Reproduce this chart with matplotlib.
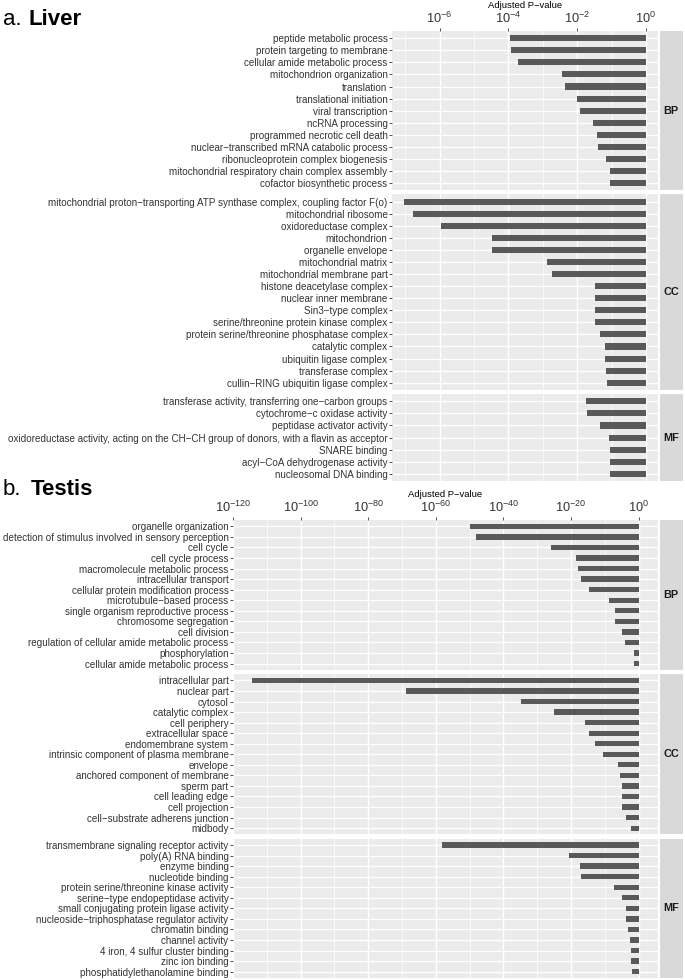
import numpy as np
import matplotlib
matplotlib.use("Agg")
import matplotlib.pyplot as plt
from matplotlib.ticker import FixedLocator, NullFormatter

plt.rcParams['font.family'] = ['Liberation Sans', 'DejaVu Sans']
plt.rcParams['mathtext.fontset'] = 'custom'
plt.rcParams['mathtext.rm'] = 'Liberation Sans'
plt.rcParams['mathtext.it'] = 'Liberation Sans:italic'
plt.rcParams['mathtext.bf'] = 'Liberation Sans:bold'

# ---- Liver ----
liver_bp_terms = ["peptide metabolic process", "protein targeting to membrane",
                  "cellular amide metabolic process", "mitochondrion organization",
                  "translation", "translational initiation", "viral transcription",
                  "ncRNA processing", "programmed necrotic cell death",
                  "nuclear\u2212transcribed mRNA catabolic process",
                  "ribonucleoprotein complex biogenesis",
                  "mitochondrial respiratory chain complex assembly",
                  "cofactor biosynthetic process"]
liver_bp_p = [1.1e-4, 1.2e-4, 1.9e-4, 3.7e-3, 4.5e-3, 1.0e-2, 1.2e-2,
              2.8e-2, 3.7e-2, 4.1e-2, 6.9e-2, 9.3e-2, 9.3e-2]

liver_cc_terms = ["mitochondrial proton\u2212transporting ATP synthase complex, coupling factor F(o)",
                  "mitochondrial ribosome", "oxidoreductase complex", "mitochondrion",
                  "organelle envelope", "mitochondrial matrix", "mitochondrial membrane part",
                  "histone deacetylase complex", "nuclear inner membrane", "Sin3\u2212type complex",
                  "serine/threonine protein kinase complex",
                  "protein serine/threonine phosphatase complex", "catalytic complex",
                  "ubiquitin ligase complex", "transferase complex",
                  "cullin\u2212RING ubiquitin ligase complex"]
liver_cc_p = [9.3e-8, 1.7e-7, 1.1e-6, 3.3e-5, 3.3e-5, 1.3e-3, 1.9e-3, 3.2e-2,
              3.2e-2, 3.2e-2, 3.4e-2, 4.7e-2, 6.5e-2, 6.5e-2, 6.9e-2, 7.2e-2]

liver_mf_terms = ["transferase activity, transferring one\u2212carbon groups",
                  "cytochrome\u2212c oxidase activity", "peptidase activator activity",
                  "oxidoreductase activity, acting on the CH\u2212CH group of donors, with a flavin as acceptor",
                  "SNARE binding", "acyl\u2212CoA dehydrogenase activity",
                  "nucleosomal DNA binding"]
liver_mf_p = [1.8e-2, 1.9e-2, 4.6e-2, 8.5e-2, 8.9e-2, 9.1e-2, 9.3e-2]

# ---- Testis ----
testis_bp_terms = ["organelle organization",
                   "detection of stimulus involved in sensory perception", "cell cycle",
                   "cell cycle process", "macromolecule metabolic process",
                   "intracellular transport", "cellular protein modification process",
                   "microtubule\u2212based process", "single organism reproductive process",
                   "chromosome segregation", "cell division",
                   "regulation of cellular amide metabolic process", "phosphorylation",
                   "cellular amide metabolic process"]
testis_bp_p = [1.3e-50, 1.0e-48, 1.3e-26, 3.2e-19, 1.3e-18, 6.3e-18, 2.5e-15,
               1.4e-9, 8.3e-8, 1.3e-7, 9.8e-6, 7.4e-5, 3.4e-2, 4.2e-2]

testis_cc_terms = ["intracellular part", "nuclear part", "cytosol", "catalytic complex",
                   "cell periphery", "extracellular space", "endomembrane system",
                   "intrinsic component of plasma membrane", "envelope",
                   "anchored component of membrane", "sperm part", "cell leading edge",
                   "cell projection", "cell\u2212substrate adherens junction", "midbody"]
testis_cc_p = [5.0e-115, 1.6e-69, 1.6e-35, 7.9e-26, 1.0e-16, 2.0e-15, 1.6e-13,
               2.5e-11, 7.9e-7, 3.2e-6, 1.0e-5, 1.3e-5, 1.6e-5, 1.3e-4, 6.3e-3]

testis_mf_terms = ["transmembrane signaling receptor activity", "poly(A) RNA binding",
                   "enzyme binding", "nucleotide binding",
                   "protein serine/threonine kinase activity",
                   "serine\u2212type endopeptidase activity",
                   "small conjugating protein ligase activity",
                   "nucleoside\u2212triphosphatase regulator activity", "chromatin binding",
                   "channel activity", "4 iron, 4 sulfur cluster binding",
                   "zinc ion binding", "phosphatidylethanolamine binding"]
testis_mf_p = [7.9e-59, 2.5e-21, 5.0e-18, 1.0e-17, 6.3e-8, 1.0e-5, 1.3e-4, 1.6e-4,
               8.9e-4, 2.2e-3, 5.5e-3, 6.9e-3, 8.7e-3]

W, H = 685, 980
fig = plt.figure(figsize=(W / 100, H / 100), dpi=100)


def px_axes(l, t, r, b):
    return fig.add_axes([l / W, 1 - b / H, (r - l) / W, (b - t) / H])


def draw_block(groups, left, top, bottom, major_exp, minor_exp):
    all_log = np.log10(np.concatenate([g[2] for g in groups]))
    lo = all_log.min()
    pad = 0.05 * (0 - lo)
    xlim = (10.0 ** (lo - pad), 10.0 ** pad)
    gap = 4.2
    units = [len(g[1]) + 0.2 for g in groups]
    unit = (bottom - top - gap * (len(groups) - 1)) / sum(units)
    y = top
    for i, (facet, terms, pvals) in enumerate(groups):
        h = units[i] * unit
        ax = px_axes(left, y, 658, y + h)
        ax.set_facecolor('#EBEBEB')
        ax.set_axisbelow(True)
        for s in ax.spines.values():
            s.set_visible(False)
        ax.set_xscale('log')
        pos = np.arange(len(terms))
        p = np.array(pvals)
        # bars run from the p-value up to 1 on the log axis
        ax.barh(pos, 1 - p, left=p, height=0.5, color='#595959', zorder=2)
        ax.set_xlim(*xlim)
        ax.set_ylim(len(terms) - 0.4, -0.6)
        ax.set_yticks(pos)
        ax.set_yticklabels(terms, fontsize=7.1, color='#333333')
        ax.tick_params(axis='y', length=2.2, width=0.6, color='#333333', pad=1)
        ax.xaxis.set_major_locator(FixedLocator([10.0 ** e for e in major_exp]))
        ax.xaxis.set_minor_locator(FixedLocator([10.0 ** e for e in minor_exp]))
        ax.xaxis.set_minor_formatter(NullFormatter())
        ax.grid(axis='y', which='major', color='white', lw=1.0)
        ax.grid(axis='x', which='major', color='white', lw=1.0)
        ax.grid(axis='x', which='minor', color='white', lw=0.5)
        ax.tick_params(axis='x', which='minor', length=0)
        if i == 0:
            ax.xaxis.tick_top()
            ax.set_xticklabels(["$10^{%d}$" % e for e in major_exp],
                               fontsize=9.2, color='#333333')
            ax.tick_params(axis='x', which='major', length=2.2, width=0.6,
                           color='#333333', pad=1.5)
            ax.set_xlabel("Adjusted P\u2212value", fontsize=6.8, color='black',
                          labelpad=2)
            ax.xaxis.set_label_position('top')
        else:
            ax.tick_params(axis='x', which='both', length=0, labeltop=False,
                           labelbottom=False)
        strip = px_axes(659.5, y, 683, y + h)
        strip.set_facecolor('#D9D9D9')
        strip.set_xticks([])
        strip.set_yticks([])
        for s in strip.spines.values():
            s.set_visible(False)
        strip.text(0.5, 0.5, facet, ha='center', va='center', fontsize=7.8,
                   fontweight='bold', color='#1A1A1A', transform=strip.transAxes)
        y += h + gap


# titles
fig.text(3 / W, 1 - 25 / H, "a.", fontsize=16, va='baseline', ha='left')
fig.text(29 / W, 1 - 25 / H, "Liver", fontsize=16, fontweight='bold',
         va='baseline', ha='left')
fig.text(3 / W, 1 - 495 / H, "b.", fontsize=16, va='baseline', ha='left')
fig.text(31 / W, 1 - 495 / H, "Testis", fontsize=16, fontweight='bold',
         va='baseline', ha='left')

draw_block([("BP", liver_bp_terms, liver_bp_p),
            ("CC", liver_cc_terms, liver_cc_p),
            ("MF", liver_mf_terms, liver_mf_p)],
           392, 31, 481, [-6, -4, -2, 0], [-7, -5, -3, -1])

draw_block([("BP", testis_bp_terms, testis_bp_p),
            ("CC", testis_cc_terms, testis_cc_p),
            ("MF", testis_mf_terms, testis_mf_p)],
           233, 520, 978, [-120, -100, -80, -60, -40, -20, 0],
           [-110, -90, -70, -50, -30, -10])

fig.savefig("out.png", dpi=100)
